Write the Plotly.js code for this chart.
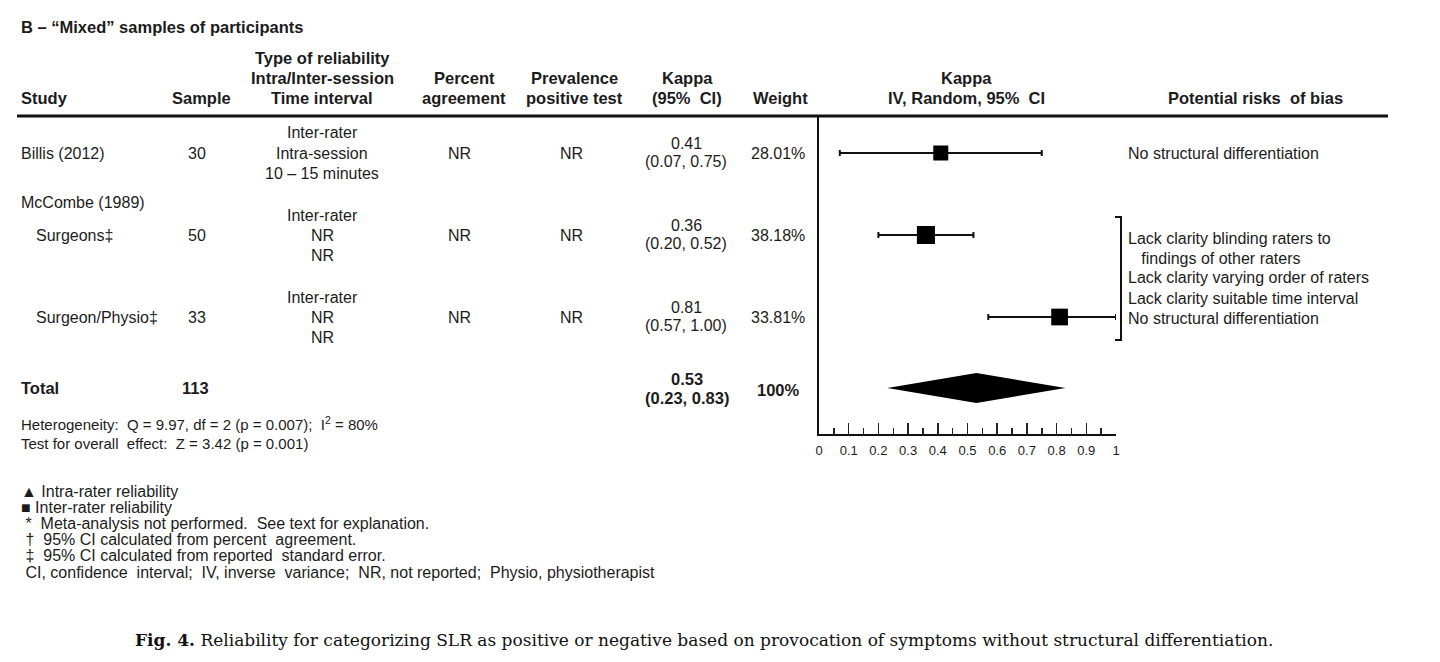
<!DOCTYPE html>
<html>
<head>
<meta charset="utf-8">
<script src="https://cdn.plot.ly/plotly-3.0.1.min.js"></script>
<style>
  html, body { margin: 0; padding: 0; background: #fff; }
  #chart { width: 1440px; height: 662px; }
</style>
</head>
<body>
<div id="chart"></div>
<script>
// ---- Data -------------------------------------------------------------
const studies = ['Billis (2012)', 'Surgeons‡', 'Surgeon/Physio‡'];
const groupLabel = 'McCombe (1989)';
const samples = [30, 50, 33];
const reliabilityType = [
  ['Inter-rater', 'Intra-session', '10 – 15 minutes'],
  ['Inter-rater', 'NR', 'NR'],
  ['Inter-rater', 'NR', 'NR']
];
const percentAgreement = ['NR', 'NR', 'NR'];
const prevalencePositive = ['NR', 'NR', 'NR'];
const kappa = [0.41, 0.36, 0.81];
const ciLower = [0.07, 0.20, 0.57];
const ciUpper = [0.75, 0.52, 1.00];
const weights = [28.01, 38.18, 33.81];
const biasNotes = [
  ['No structural differentiation'],
  ['Lack clarity blinding raters to', '   findings of other raters', 'Lack clarity varying order of raters',
   'Lack clarity suitable time interval', 'No structural differentiation']
];

const totalSample = 113;
const pooledKappa = 0.53;
const pooledLower = 0.23;
const pooledUpper = 0.83;
const totalWeight = 100;
const heterogeneity = 'Heterogeneity:  Q = 9.97, df = 2 (p = 0.007);  I<sup>2</sup> = 80%';
const overallEffect = 'Test for overall  effect:  Z = 3.42 (p = 0.001)';

const tickValues = [0, 0.1, 0.2, 0.3, 0.4, 0.5, 0.6, 0.7, 0.8, 0.9, 1];
const tickLabels = ['0', '0.1', '0.2', '0.3', '0.4', '0.5', '0.6', '0.7', '0.8', '0.9', '1'];

const footnotes = [
  '▲ Intra-rater reliability',
  '■ Inter-rater reliability',
  ' *  Meta-analysis not performed.  See text for explanation.',
  ' †  95% CI calculated from percent  agreement.',
  ' ‡  95% CI calculated from reported  standard error.',
  ' CI, confidence  interval;  IV, inverse  variance;  NR, not reported;  Physio, physiotherapist'
];
const caption = '<b>Fig. 4.</b> Reliability for categorizing SLR as positive or negative based on provocation of symptoms without structural differentiation.';

// ---- Layout geometry (pixels) -----------------------------------------
const W = 1440, H = 662;
const PLOT_LEFT = 819, PLOT_RIGHT = 1116, PLOT_TOP = 116, PLOT_BOTTOM = 434;
const rowY = [153, 235, 317];      // vertical centre of each study row
const groupY = 202;                // McCombe heading
const totalY = 388;                // pooled row
const DIAMOND_HALF = 15;

const SANS = 'Liberation Sans, Arial, sans-serif';
const SERIF = 'DejaVu Serif, Liberation Serif, serif';
const INK = '#1c1c1c';
const BODY = 16, HEAD = 16.5;

const annotations = [];
function T(x, y, text, o = {}) {
  annotations.push({
    xref: 'paper', yref: 'paper', x: x / W, y: 1 - y / H,
    text: text, showarrow: false,
    xanchor: o.anchor || 'center', yanchor: o.vanchor || 'middle', align: o.anchor || 'center',
    font: { family: o.family || SANS, size: o.size || BODY, color: o.color || INK }
  });
}
const B = s => '<b>' + s + '</b>';
const nb = s => s.replace(/ /g, '&nbsp;');

// Title and column headers
T(19, 27, B('B – “Mixed” samples of participants'), { anchor: 'left', size: HEAD });
T(19, 98, B('Study'), { anchor: 'left', size: HEAD });
T(233, 98, B('Sample'), { anchor: 'right', size: HEAD });
T(322, 58, B('Type of reliability'), { size: HEAD });
T(322, 78, B('Intra/Inter-session'), { size: HEAD });
T(322, 98, B('Time interval'), { size: HEAD });
T(464, 78, B('Percent'), { size: HEAD });
T(464, 98, B('agreement'), { size: HEAD });
T(574, 78, B('Prevalence'), { size: HEAD });
T(574, 98, B('positive test'), { size: HEAD });
T(687, 78, B('Kappa'), { size: HEAD });
T(687, 98, B(nb('(95%  CI)')), { size: HEAD });
T(780, 98, B('Weight'), { size: HEAD });
T(967, 78, B('Kappa'), { size: HEAD });
T(967, 98, B(nb('IV, Random, 95%  CI')), { size: HEAD });
T(1255, 98, B(nb('Potential risks  of bias')), { size: HEAD });

// Study rows
T(19, groupY, groupLabel, { anchor: 'left' });
studies.forEach((name, i) => {
  const y = rowY[i];
  T(i === 0 ? 19 : 34, y, name, { anchor: 'left' });
  T(197, y, String(samples[i]));
  reliabilityType[i].forEach((line, j) => T(322, y - 20 + j * 20, line));
  T(460, y, percentAgreement[i]);
  T(571, y, prevalencePositive[i]);
  T(686, y - 10, kappa[i].toFixed(2));
  T(686, y + 8, '(' + ciLower[i].toFixed(2) + ', ' + ciUpper[i].toFixed(2) + ')');
  T(778, y, weights[i].toFixed(2) + '%');
});

// Risk-of-bias notes
T(1126, rowY[0], biasNotes[0][0], { anchor: 'left' });
biasNotes[1].forEach((line, j) => T(1126, 238 + j * 20, nb(line), { anchor: 'left' }));

// Pooled row
T(19, totalY, B('Total'), { anchor: 'left', size: HEAD });
T(195, totalY, B(String(totalSample)), { size: HEAD });
T(687, totalY - 9, B(pooledKappa.toFixed(2)), { size: HEAD });
T(687, totalY + 10, B('(' + pooledLower.toFixed(2) + ', ' + pooledUpper.toFixed(2) + ')'), { size: HEAD });
T(778, totalY + 2, B(totalWeight + '%'), { size: HEAD });
// heterogeneity statistics: first line sits on a baseline just above the second
T(19, 435, nb(heterogeneity), { anchor: 'left', size: 15, vanchor: 'bottom' });
T(19, 433, nb(overallEffect), { anchor: 'left', size: 15, vanchor: 'top' });

// Footnotes and caption
footnotes.forEach((line, j) => T(19, 491 + j * 16.2, nb(line), { anchor: 'left', size: 16 }));
T(704, 640, caption, { family: SERIF, size: 17, color: '#111' });

// ---- Traces -------------------------------------------------------------
const studyTrace = {
  type: 'scatter', mode: 'markers',
  x: kappa, y: rowY,
  cliponaxis: false,
  marker: { symbol: 'square', color: '#000', opacity: 1,
            size: weights.map(w => 6.6 + 0.3 * w), line: { width: 0 } },
  error_x: {
    type: 'data', symmetric: false,
    array: kappa.map((k, i) => ciUpper[i] - k),
    arrayminus: kappa.map((k, i) => k - ciLower[i]),
    color: '#111', thickness: 2, width: 3
  },
  hoverinfo: 'skip'
};
const pooledTrace = {
  type: 'scatter', mode: 'lines',
  x: [pooledLower, pooledKappa, pooledUpper, pooledKappa, pooledLower],
  y: [totalY, totalY - DIAMOND_HALF, totalY, totalY + DIAMOND_HALF, totalY],
  fill: 'toself', fillcolor: '#000', line: { width: 0, color: '#000' },
  cliponaxis: false, hoverinfo: 'skip'
};

const layout = {
  width: W, height: H,
  margin: { l: 0, r: 0, t: 0, b: 0 },
  paper_bgcolor: '#fff', plot_bgcolor: 'rgba(0,0,0,0)',
  showlegend: false,
  xaxis: {
    domain: [PLOT_LEFT / W, PLOT_RIGHT / W], range: [0, 1],
    showline: true, linewidth: 2, linecolor: '#111',
    showgrid: false, zeroline: false,
    tickmode: 'array', tickvals: tickValues, ticktext: tickLabels,
    ticks: 'inside', ticklen: 11, tickwidth: 1.5, tickcolor: '#222',
    tickfont: { family: SANS, size: 13, color: INK },
    ticklabelstandoff: 3,
    minor: { tick0: 0, dtick: 0.05, ticks: 'inside', ticklen: 6, tickwidth: 1.5, tickcolor: '#222', showgrid: false },
    fixedrange: true
  },
  yaxis: {
    domain: [1 - PLOT_BOTTOM / H, 1 - PLOT_TOP / H], range: [PLOT_BOTTOM, PLOT_TOP],
    showline: true, linewidth: 2, linecolor: '#111',
    showgrid: false, zeroline: false, ticks: '', showticklabels: false,
    fixedrange: true
  },
  shapes: [
    // header rule
    { type: 'line', xref: 'paper', yref: 'paper', x0: 17 / W, x1: 1388 / W, y0: 1 - 116 / H, y1: 1 - 116 / H,
      line: { color: '#111', width: 3 } },
    // bracket grouping the McCombe rows
    { type: 'path', xref: 'paper', yref: 'paper',
      path: `M ${1115 / W} ${1 - 217 / H} L ${1121 / W} ${1 - 217 / H} L ${1121 / W} ${1 - 340 / H} L ${1115 / W} ${1 - 340 / H}`,
      line: { color: '#111', width: 2 } }
  ],
  annotations: annotations
};

Plotly.newPlot('chart', [studyTrace, pooledTrace], layout, { displayModeBar: false, staticPlot: true });
</script>
</body>
</html>
